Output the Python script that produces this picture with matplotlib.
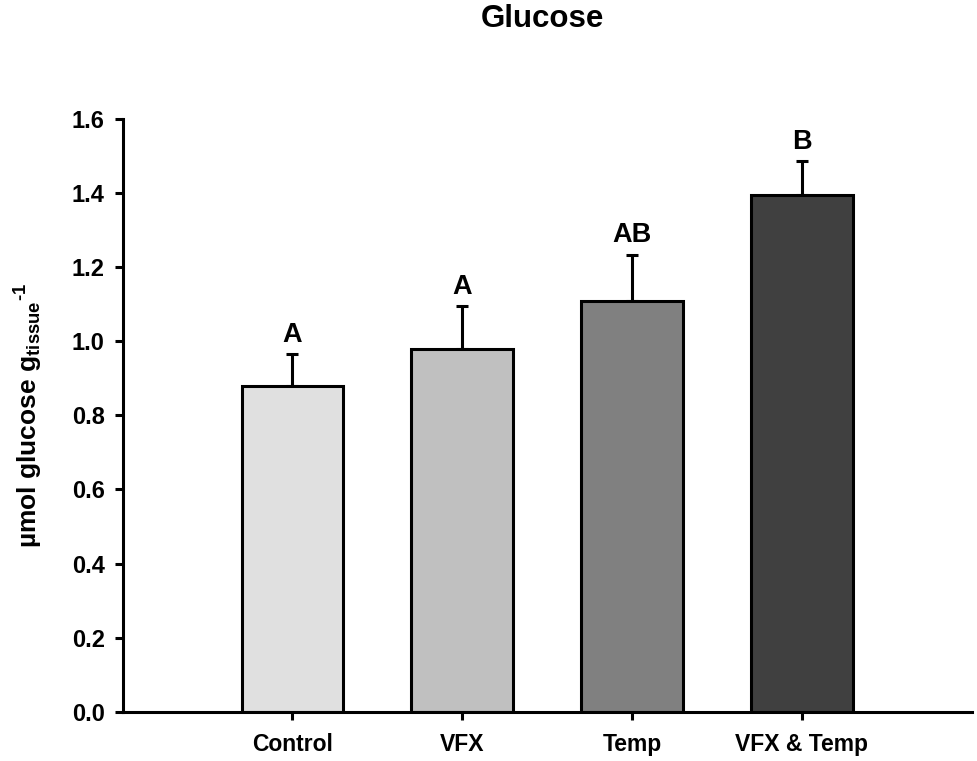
import matplotlib
matplotlib.use("Agg")
import matplotlib.pyplot as plt
import numpy as np

categories = ["Control", "VFX", "Temp", "VFX & Temp"]
means = [0.880, 0.979, 1.109, 1.395]
errors = [0.086, 0.115, 0.125, 0.091]
letters = ["A", "A", "AB", "B"]
colors = ["#e0e0e0", "#c0c0c0", "#808080", "#404040"]
yticks = [0.0, 0.2, 0.4, 0.6, 0.8, 1.0, 1.2, 1.4, 1.6]

plt.rcParams['font.family'] = ['Liberation Sans', 'DejaVu Sans']
plt.rcParams['font.weight'] = 'bold'
plt.rcParams['mathtext.fontset'] = 'custom'
plt.rcParams['mathtext.rm'] = 'Liberation Sans:bold'
plt.rcParams['mathtext.bf'] = 'Liberation Sans:bold'
plt.rcParams['mathtext.it'] = 'Liberation Sans:bold'
plt.rcParams['mathtext.default'] = 'bf'

fig = plt.figure(figsize=(9.78, 7.61), dpi=100)
ax = fig.add_axes([122.7/978, 1-711.7/761, (971.7-122.7)/978, (711.7-119)/761])

x = np.arange(len(categories))
lw = 2.2
ax.bar(x, means, width=0.6, color=colors, edgecolor='black', linewidth=lw, zorder=2)
ax.errorbar(x, means, yerr=[np.zeros(len(errors)), errors], fmt='none',
            ecolor='black', elinewidth=lw, capsize=4.5, capthick=lw, zorder=1)

for xi, m, e, lab in zip(x, means, errors, letters):
    ax.annotate(lab, (xi, m + e), xytext=(0, 4.5), textcoords='offset points',
                ha='center', va='bottom', fontsize=19.5, fontweight='bold')

ax.set_xlim(-1, 4)
ax.set_ylim(0, 1.6)
ax.set_yticks(yticks)
ax.set_yticklabels([f"{v:.1f}" for v in yticks])
ax.set_xticks(x)
ax.set_xticklabels(categories)
ax.spines['top'].set_visible(False)
ax.spines['right'].set_visible(False)
ax.spines['left'].set_linewidth(lw)
ax.spines['bottom'].set_linewidth(lw)
ax.tick_params(axis='y', direction='out', length=6, width=lw, labelsize=17, pad=7)
ax.tick_params(axis='x', direction='out', length=6, width=lw, labelsize=16.5, pad=9)
for t in ax.get_xticklabels() + ax.get_yticklabels():
    t.set_fontweight('bold')

fig.text(29/978, 1-416/761, r'µmol glucose g$_{tissue}$$^{\text{-1}}$', rotation=90,
         ha='center', va='center', fontsize=19, fontweight='bold')
fig.text(542.5/978, 1-27/761, 'Glucose', ha='center', va='baseline',
         fontsize=22.5, fontweight='bold')

fig.savefig('out.png', dpi=100)
